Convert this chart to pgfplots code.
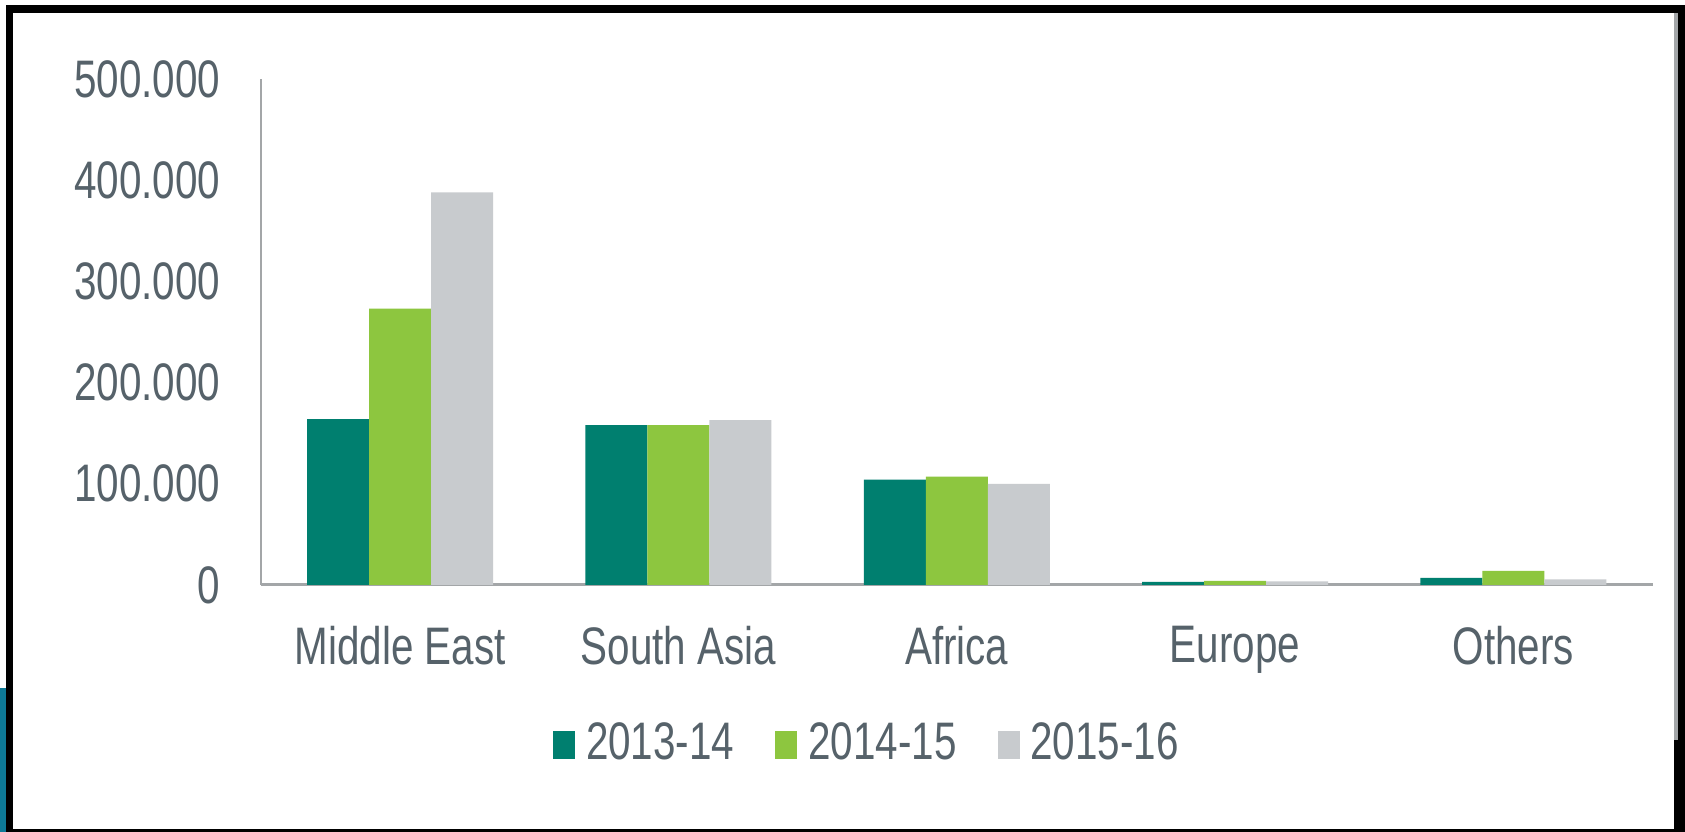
\documentclass[border=0pt]{standalone}
\usepackage{fontspec}
\setmainfont{Liberation Sans}[FakeStretch=0.765]
\usepackage{pgfplots}
\pgfplotsset{compat=1.18}
\definecolor{cA}{HTML}{007F6F}
\definecolor{cB}{HTML}{8DC63F}
\definecolor{cC}{HTML}{C8CBCE}
\definecolor{txt}{HTML}{56626A}
\definecolor{axg}{HTML}{A3A6A8}
\definecolor{edgeblue}{HTML}{0E7A97}
\pgfplotsset{sq/.style={legend image code/.code={\fill[##1,draw=none] (0pt,-3.5pt) rectangle (5.5pt,3.5pt);}}}
\begin{document}
\fontsize{13.2pt}{15pt}\selectfont
\begin{tikzpicture}
\fill[white] (0,0) rectangle (421.25pt,208pt);
\fill[black] (1.5pt,0) rectangle (421.25pt,206.75pt);
\fill[white] (3.25pt,0.75pt) rectangle (418.5pt,204.75pt);
\fill[axg] (418.5pt,23pt) rectangle (419.5pt,204.75pt);
\fill[edgeblue] (0,0) rectangle (1.5pt,36pt);
\begin{axis}[
  at={(65.25pt,61.75pt)}, anchor=south west,
  scale only axis, width=347.9pt, height=126.5pt,
  xmin=-0.5, xmax=4.5, ymin=0, ymax=500000,
  axis lines*=left,
  x axis line style={axg, line width=0.75pt},
  y axis line style={axg, line width=0.5pt},
  major tick length=0pt,
  xtick={0,1,2,3,4},
  xticklabels={Middle East,South Asia,Africa,Europe,Others},
  ytick={0,100000,200000,300000,400000,500000},
  yticklabels={0,100.000,200.000,300.000,400.000,500.000},
  scaled y ticks=false,
  tick label style={text=txt, font=\fontsize{13.2pt}{15pt}\selectfont},
  xticklabel style={anchor=north, inner sep=0pt, yshift=-10pt},
  yticklabel style={anchor=east, inner sep=0pt, xshift=-10pt},
  ybar, bar width=0.2228,
  legend style={draw=none, fill=none, text=txt, font=\fontsize{13.2pt}{15pt}\selectfont,
    at={(axis description cs:0.4347,-0.316)}, anchor=center,
    legend columns=3, nodes={inner sep=0pt},
    /tikz/every odd column/.append style={column sep=2.75pt},
    /tikz/every even column/.append style={column sep=10.25pt}},
]
\addplot[fill=cA, draw=none, bar shift=-0.2228, sq] coordinates {(0,164000) (1,158000) (2,104000) (3,3000) (4,7000)};
\addlegendentry{2013-14}
\addplot[fill=cB, draw=none, bar shift=0, sq] coordinates {(0,273000) (1,158000) (2,107000) (3,4000) (4,14000)};
\addlegendentry{2014-15}
\addplot[fill=cC, draw=none, bar shift=0.2228, sq] coordinates {(0,388000) (1,163000) (2,100000) (3,3500) (4,5500)};
\addlegendentry{2015-16}
\end{axis}
\end{tikzpicture}
\end{document}
